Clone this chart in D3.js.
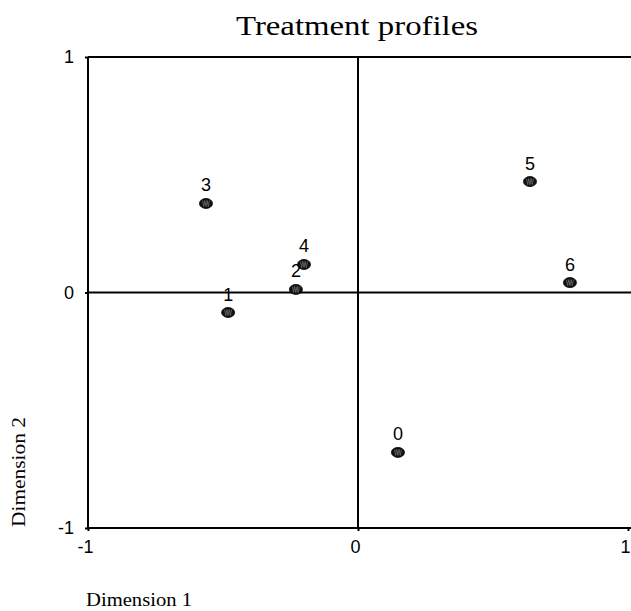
<!DOCTYPE html>
<html>
<head>
<meta charset="utf-8">
<script src="https://cdn.jsdelivr.net/npm/d3@7"></script>
<style>
  body { margin: 0; background: #fff; }
  svg { display: block; }
</style>
</head>
<body>
<svg width="631" height="611"></svg>
<script>
const labels = ["3", "1", "2", "4", "5", "6", "0"];
const dim1 = [-0.563, -0.481, -0.230, -0.200, 0.637, 0.785, 0.148];
const dim2 = [0.378, -0.085, 0.013, 0.119, 0.471, 0.042, -0.679];
const xTicks = [-1, 0, 1];
const yTicks = [-1, 0, 1];

const svg = d3.select("svg");
const x = d3.scaleLinear().domain([-1, 1]).range([88, 628]);
const y = d3.scaleLinear().domain([-1, 1]).range([528, 57]);

svg.append("text")
  .attr("x", 357).attr("y", 35)
  .attr("text-anchor", "middle")
  .attr("textLength", 242)
  .attr("lengthAdjust", "spacingAndGlyphs")
  .style("font-family", "Liberation Serif, serif")
  .style("font-size", "27px")
  .text("Treatment profiles");

// frame
const frame = svg.append("g").attr("stroke", "#000").attr("stroke-width", 2);
frame.append("line").attr("x1", x(-1)).attr("x2", 640).attr("y1", y(1)).attr("y2", y(1));
frame.append("line").attr("x1", x(-1)).attr("x2", 640).attr("y1", y(-1)).attr("y2", y(-1));
frame.append("line").attr("x1", x(-1)).attr("x2", x(-1)).attr("y1", y(1)).attr("y2", y(-1));
frame.append("line").attr("x1", x(0)).attr("x2", x(0)).attr("y1", y(1)).attr("y2", y(-1));
frame.append("line").attr("x1", x(-1)).attr("x2", 640).attr("y1", y(0)).attr("y2", y(0));

// axes
const fmt = function (d) { return String(d); };
const xAxis = svg.append("g")
  .attr("transform", "translate(0," + y(-1) + ")")
  .call(d3.axisBottom(x).tickValues(xTicks).tickFormat(fmt).tickSize(3));
const yAxis = svg.append("g")
  .attr("transform", "translate(" + x(-1) + ",0)")
  .call(d3.axisLeft(y).tickValues(yTicks).tickFormat(fmt).tickSize(3));
[xAxis, yAxis].forEach(function (a) {
  a.attr("font-size", null).attr("font-family", null);
  a.select(".domain").remove();
  a.selectAll("line").attr("stroke", "#000").attr("stroke-width", 2);
  a.selectAll("text")
    .style("font-family", "Liberation Sans, Arial, sans-serif")
    .style("font-size", "18px")
    .attr("fill", "#000");
});
xAxis.selectAll("text").attr("dy", null).attr("y", 25).attr("dx", -3);
yAxis.selectAll("text").attr("x", -14);

svg.append("text")
  .attr("transform", "translate(25,472) rotate(-90)")
  .attr("text-anchor", "middle")
  .attr("textLength", 110)
  .attr("lengthAdjust", "spacingAndGlyphs")
  .style("font-family", "Liberation Serif, serif")
  .style("font-size", "18px")
  .text("Dimension 2");

svg.append("text")
  .attr("x", 86).attr("y", 606)
  .attr("textLength", 106)
  .attr("lengthAdjust", "spacingAndGlyphs")
  .style("font-family", "Liberation Serif, serif")
  .style("font-size", "18px")
  .text("Dimension 1");

// points
const pts = svg.append("g").selectAll("g")
  .data(labels.map(function (d, i) { return { name: d, a: dim1[i], b: dim2[i] }; }))
  .enter().append("g")
  .attr("transform", function (d) { return "translate(" + x(d.a) + "," + y(d.b) + ")"; });

pts.append("ellipse").attr("rx", 6.5).attr("ry", 5)
  .attr("fill", "#111").attr("stroke", "#000").attr("stroke-width", 0.8);
pts.append("path")
  .attr("d", "M-3.5,-3 L-2.3,3 L-1.2,-3 L0,3 L1.2,-3 L2.3,3 L3.5,-3")
  .attr("fill", "none").attr("stroke", "#777").attr("stroke-width", 0.7);

pts.append("text")
  .attr("y", -12)
  .attr("text-anchor", "middle")
  .style("font-family", "Liberation Sans, Arial, sans-serif")
  .style("font-size", "18px")
  .text(function (d) { return d.name; });
</script>
</body>
</html>
